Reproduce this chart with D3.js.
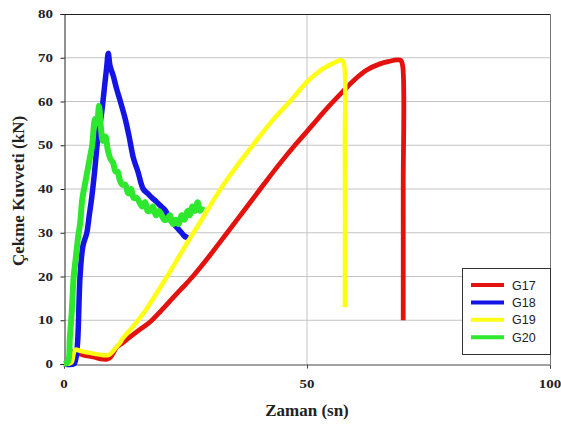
<!DOCTYPE html>
<html><head><meta charset="utf-8">
<script src="https://cdn.jsdelivr.net/npm/d3@7"></script>
<style>
html,body{margin:0;padding:0;background:#fff;}
svg{display:block;}
</style>
</head><body>
<svg id="chart" width="561" height="428"></svg>
<script>
// ---- data ----
const seriesNames = ["G17","G18","G19","G20"];
const seriesColors = ["#e3120f","#1414e6","#ffff14","#2ee82e"];

const g17T = [0,0.8,1.2,1.6,2.5,3.9,6,8,8.8,9.5,10.9,12,13.6,15.5,17.7,20,22.4,24.5,26.5,28,30,33.5,37.6,41,44.4,47.9,51.2,54,57.4,60,62.3,65,67,68.5,69.3,69.7,69.8,69.8];
const g17F = [0,0.3,2,2.8,2.6,2.1,1.6,1.1,1.1,1.5,3.9,4.8,6.2,7.8,9.6,12.2,15.1,17.6,20,22,24.8,29.9,35.9,40.9,45.8,50.5,54.7,58.3,62.3,65.2,67.2,68.6,69.2,69.5,69.4,68,40,10];

const g18T = [0,2.0,2.4,2.8,3.3,3.9,4.7,5.2,5.7,6.3,7.0,7.7,8.4,8.8,9.1,9.5,10.1,10.8,11.6,12.6,13.4,14.3,15.2,16.3,17.2,18.1,19.1,20.0,20.9,21.8,22.6,23.4,24.2,25.0,25.5];
const g18F = [0,0,1,5,20,27,30,34,38,44,52,57,64,68,71,68,66,63,60,56,52,47,44,40,39,38,37,36,35,33,32,31,30,29,29.5];

const g19T = [0,1.5,2.0,2.4,3.3,5,7,9,9.5,10.5,11.5,12.2,14,16.3,18.5,21.2,23.9,25.3,28,32.1,36.2,39.7,43,46.9,50,53,55.5,57.0,57.5,57.8,57.8];
const g19F = [0,0.3,2.5,3.3,3.0,2.6,2.2,2.0,2.3,3.5,4.8,6,8.3,11.5,15.2,20,25,27.6,32.4,39.8,46.2,51.2,55.8,60.5,64.5,67.3,68.8,69.5,69,50,13];

const g20T = [0,0.8,1.2,1.6,2.0,2.4,2.9,3.3,3.8,4.3,4.8,5.3,5.8,6.4,6.8,7.2,7.6,8.0,8.5,9.0,9.5,10.1,10.6,11.0,11.5,12.0,12.6,13.2,13.8,14.3,14.9,15.5,16.1,16.7,17.2,17.7,18.3,18.9,19.5,20.1,20.6,21.2,21.8,22.4,23.0,23.6,24.2,24.8,25.4,25.9,26.4,27.0,27.5,28.0,28.5];
const g20F = [0,0.5,6,12,20,24,29,32,38,41,44,47,50,56,55,59,54,51,52,49,47,46,44,44,42,41,41,39,40,38,38,37,36,37,35,35,36,34,35,34,33,33,34,32,33,32,34,33,35,34,36,35,37,35,36];

const xTicks = [0,50,100];
const yTicks = [0,10,20,30,40,50,60,70,80];
const xTitle = "Zaman (sn)";
const yTitle = "Çekme Kuvveti (kN)";

// ---- chart ----
const svg = d3.select("#chart");
const L = 64, R = 550, T = 14, B = 364;
const x = d3.scaleLinear().domain([0,100]).range([L,R]);
const y = d3.scaleLinear().domain([0,80]).range([B,T]);

// grid
svg.append("g").selectAll("line").data(yTicks.filter(d=>d>0 && d<80)).join("line")
  .attr("x1",L).attr("x2",R).attr("y1",d=>y(d)).attr("y2",d=>y(d))
  .attr("stroke","#c4c4c4").attr("stroke-width",1);
svg.append("line").attr("x1",x(50)).attr("x2",x(50)).attr("y1",T).attr("y2",B)
  .attr("stroke","#c4c4c4").attr("stroke-width",1);

// frame
svg.append("line").attr("x1",L).attr("x2",R).attr("y1",T+0.5).attr("y2",T+0.5).attr("stroke","#222");
svg.append("line").attr("x1",R+0.5).attr("x2",R+0.5).attr("y1",T).attr("y2",B).attr("stroke","#777");

// axes
const yAxis = d3.axisLeft(y).tickValues(yTicks).tickSize(4).tickFormat("");
const gy = svg.append("g").attr("transform",`translate(${L+0.5},0)`).call(yAxis);
gy.selectAll("path,line").attr("stroke","#222");
const xAxis = d3.axisBottom(x).tickValues(xTicks).tickSize(4).tickFormat("");
const gx = svg.append("g").attr("transform",`translate(0,${B+0.5})`).call(xAxis);
gx.selectAll("path,line").attr("stroke","#444");

// tick labels (squat bold serif)
svg.append("g").selectAll("text").data(yTicks).join("text")
  .attr("transform",d=>`translate(53,${y(d)+4}) scale(1.3,1)`)
  .attr("text-anchor","end")
  .attr("font-family","'Liberation Serif', serif").attr("font-weight","bold")
  .attr("font-size","11.5px").attr("fill","#222").text(d=>d);
svg.append("g").selectAll("text").data(xTicks).join("text")
  .attr("transform",d=>`translate(${x(d)},${388}) scale(1.3,1)`)
  .attr("text-anchor","middle")
  .attr("font-family","'Liberation Serif', serif").attr("font-weight","bold")
  .attr("font-size","11.5px").attr("fill","#222").text(d=>d);

// titles
svg.append("text").attr("x",307).attr("y",416).attr("text-anchor","middle")
  .attr("font-family","'Liberation Serif', serif").attr("font-weight","bold")
  .attr("font-size","17px").attr("fill","#222").text(xTitle);
svg.append("text").attr("transform","translate(24,191) rotate(-90)").attr("text-anchor","middle")
  .attr("font-family","'Liberation Serif', serif").attr("font-weight","bold")
  .attr("font-size","17px").attr("fill","#222").text(yTitle);

// series
const series = [
  {name:seriesNames[0], t:g17T, f:g17F, c:seriesColors[0], w:4.8},
  {name:seriesNames[1], t:g18T, f:g18F, c:seriesColors[1], w:5.5},
  {name:seriesNames[2], t:g19T, f:g19F, c:seriesColors[2], w:4.5},
  {name:seriesNames[3], t:g20T, f:g20F, c:seriesColors[3], w:6},
];
const line = d3.line().x(d=>x(d[0])).y(d=>y(d[1])).curve(d3.curveCatmullRom.alpha(0.5));
svg.append("g").selectAll("path").data(series).join("path")
  .attr("d",s=>line(s.t.map((t,i)=>[t,s.f[i]])))
  .attr("fill","none").attr("stroke",s=>s.c)
  .attr("stroke-width",s=>s.w).attr("stroke-linejoin","round").attr("stroke-linecap","butt");

// legend
const lg = svg.append("g");
lg.append("rect").attr("x",462.5).attr("y",268.5).attr("width",88).attr("height",86)
  .attr("fill","#fff").attr("stroke","#333").attr("stroke-width",1);
const items = lg.selectAll("g").data(series).join("g")
  .attr("transform",(d,i)=>`translate(0,${285+i*17.4})`);
items.append("line").attr("x1",471).attr("x2",504).attr("y1",0).attr("y2",0)
  .attr("stroke",d=>d.c).attr("stroke-width",4);
items.append("text").attr("x",512).attr("y",4.5)
  .attr("font-family","'Liberation Sans', Arial, sans-serif").attr("font-size","12.5px")
  .attr("fill","#222").text(d=>d.name);
</script>
</body></html>
